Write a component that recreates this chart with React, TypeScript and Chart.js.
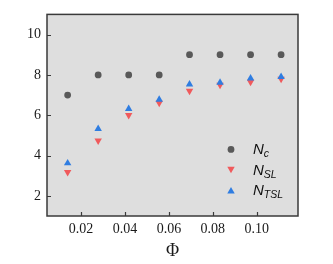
import React, { useEffect, useRef } from "react";
import { Chart, registerables } from "chart.js";

Chart.register(...registerables);

const phi = [0.0139, 0.0278, 0.0417, 0.0556, 0.0694, 0.0833, 0.0972, 0.1111];
const nC = [7, 8, 8, 8, 9, 9, 9, 9];
const nSL = [3.17, 4.74, 6.0, 6.61, 7.2, 7.5, 7.65, 7.8];
const nTSL = [3.62, 5.32, 6.32, 6.78, 7.53, 7.62, 7.83, 7.9];
const xTicks = [0.02, 0.04, 0.06, 0.08, 0.1];
const yTicks = [2, 4, 6, 8, 10];

const GREY = "#595959";
const RED = "#f05a5c";
const BLUE = "#2f7de1";

const legendItems = [
  { main: "N", sub: "c", color: GREY, style: "circle", rot: 0 },
  { main: "N", sub: "SL", color: RED, style: "triangle", rot: 180 },
  { main: "N", sub: "TSL", color: BLUE, style: "triangle", rot: 0 },
];

const framePlugin = {
  id: "frame",
  beforeDatasetsDraw(chart: any) {
    const { ctx, chartArea: a } = chart;
    ctx.save();
    ctx.fillStyle = "#dedede";
    ctx.fillRect(a.left, a.top, a.right - a.left, a.bottom - a.top);
    ctx.restore();
  },
  afterDraw(chart: any) {
    const { ctx, chartArea: a, scales } = chart;
    ctx.save();
    ctx.strokeStyle = "#3a3a3a";
    ctx.lineWidth = 1.5;
    ctx.strokeRect(a.left, a.top, a.right - a.left, a.bottom - a.top);
    ctx.lineWidth = 1.2;
    ctx.beginPath();
    for (const v of xTicks) {
      const px = Math.round(scales.x.getPixelForValue(v)) + 0.5;
      ctx.moveTo(px, a.bottom);
      ctx.lineTo(px, a.bottom - 4);
    }
    for (const v of yTicks) {
      const py = Math.round(scales.y.getPixelForValue(v)) + 0.5;
      ctx.moveTo(a.left, py);
      ctx.lineTo(a.left + 4, py);
    }
    ctx.stroke();

    // legend
    const mx = a.right - 67;
    const tx = a.right - 45;
    const y0 = a.top + 135;
    legendItems.forEach((it, i) => {
      const y = y0 + i * 20.5;
      ctx.fillStyle = it.color;
      ctx.beginPath();
      if (it.style === "circle") {
        ctx.arc(mx, y, 3.4, 0, Math.PI * 2);
      } else {
        let rad = (it.rot * Math.PI) / 180;
        const r = 4.3;
        const cy = y + (it.rot === 180 ? -1 : 1);
        ctx.moveTo(mx + Math.sin(rad) * r, cy - Math.cos(rad) * r);
        rad += (2 * Math.PI) / 3;
        ctx.lineTo(mx + Math.sin(rad) * r, cy - Math.cos(rad) * r);
        rad += (2 * Math.PI) / 3;
        ctx.lineTo(mx + Math.sin(rad) * r, cy - Math.cos(rad) * r);
        ctx.closePath();
      }
      ctx.fill();
      ctx.fillStyle = "#111";
      ctx.textBaseline = "alphabetic";
      ctx.textAlign = "left";
      ctx.font = "italic 15px 'Liberation Sans', Arial, sans-serif";
      ctx.fillText(it.main, tx, y + 5);
      const w = ctx.measureText(it.main).width;
      ctx.font = "italic 10.5px 'Liberation Sans', Arial, sans-serif";
      ctx.fillText(it.sub, tx + w, y + 8);
    });
    ctx.restore();
  },
};

const serif = "'Liberation Serif', 'Times New Roman', serif";

export default function App() {
  const ref = useRef<HTMLCanvasElement>(null);
  useEffect(() => {
    document.body.style.margin = "0";
    const chart = new Chart(ref.current!, {
      type: "scatter",
      data: {
        datasets: [
          {
            label: "Nc",
            data: phi.map((x, i) => ({ x, y: nC[i] })),
            pointStyle: "circle",
            pointRadius: 3.4,
            backgroundColor: GREY,
            borderWidth: 0,
            order: 3,
          },
          {
            label: "NSL",
            data: phi.map((x, i) => ({ x, y: nSL[i] })),
            pointStyle: "triangle",
            pointRotation: 180,
            pointRadius: 4.3,
            backgroundColor: RED,
            borderWidth: 0,
            order: 2,
          },
          {
            label: "NTSL",
            data: phi.map((x, i) => ({ x, y: nTSL[i] })),
            pointStyle: "triangle",
            pointRadius: 4.3,
            backgroundColor: BLUE,
            borderWidth: 0,
            order: 1,
          },
        ],
      },
      options: {
        animation: false,
        responsive: false,
        layout: { padding: { top: 11, right: 35, left: 0, bottom: 0 } },
        plugins: { legend: { display: false }, tooltip: { enabled: false } },
        scales: {
          x: {
            type: "linear",
            min: 0.0045,
            max: 0.1188,
            grid: { display: false, drawTicks: false },
            border: { display: false },
            afterBuildTicks: (s: any) => {
              s.ticks = xTicks.map((v) => ({ value: v }));
            },
            afterFit: (s: any) => {
              s.height = 48;
            },
            ticks: {
              padding: 5,
              color: "#1a1a1a",
              font: { family: serif, size: 14 },
              callback: (v: any) => Number(v).toFixed(2),
              maxRotation: 0,
            },
            title: {
              display: true,
              text: "Φ",
              color: "#1a1a1a",
              font: { family: serif, size: 18 },
              padding: { top: 0, bottom: 2 },
            },
          },
          y: {
            type: "linear",
            min: 1,
            max: 11,
            grid: { display: false, drawTicks: false },
            border: { display: false },
            afterBuildTicks: (s: any) => {
              s.ticks = yTicks.map((v) => ({ value: v }));
            },
            afterFit: (s: any) => {
              s.width = 47;
            },
            ticks: {
              padding: 6,
              color: "#1a1a1a",
              font: { family: serif, size: 14 },
              callback: (v: any) => String(v),
            },
          },
        },
      },
      plugins: [framePlugin],
    });
    return () => chart.destroy();
  }, []);
  return (
    <div style={{ position: "fixed", left: 0, top: 0, width: 333, height: 264, background: "#fff" }}>
      <canvas ref={ref} width={333} height={264} style={{ width: 333, height: 264 }} />
    </div>
  );
}
